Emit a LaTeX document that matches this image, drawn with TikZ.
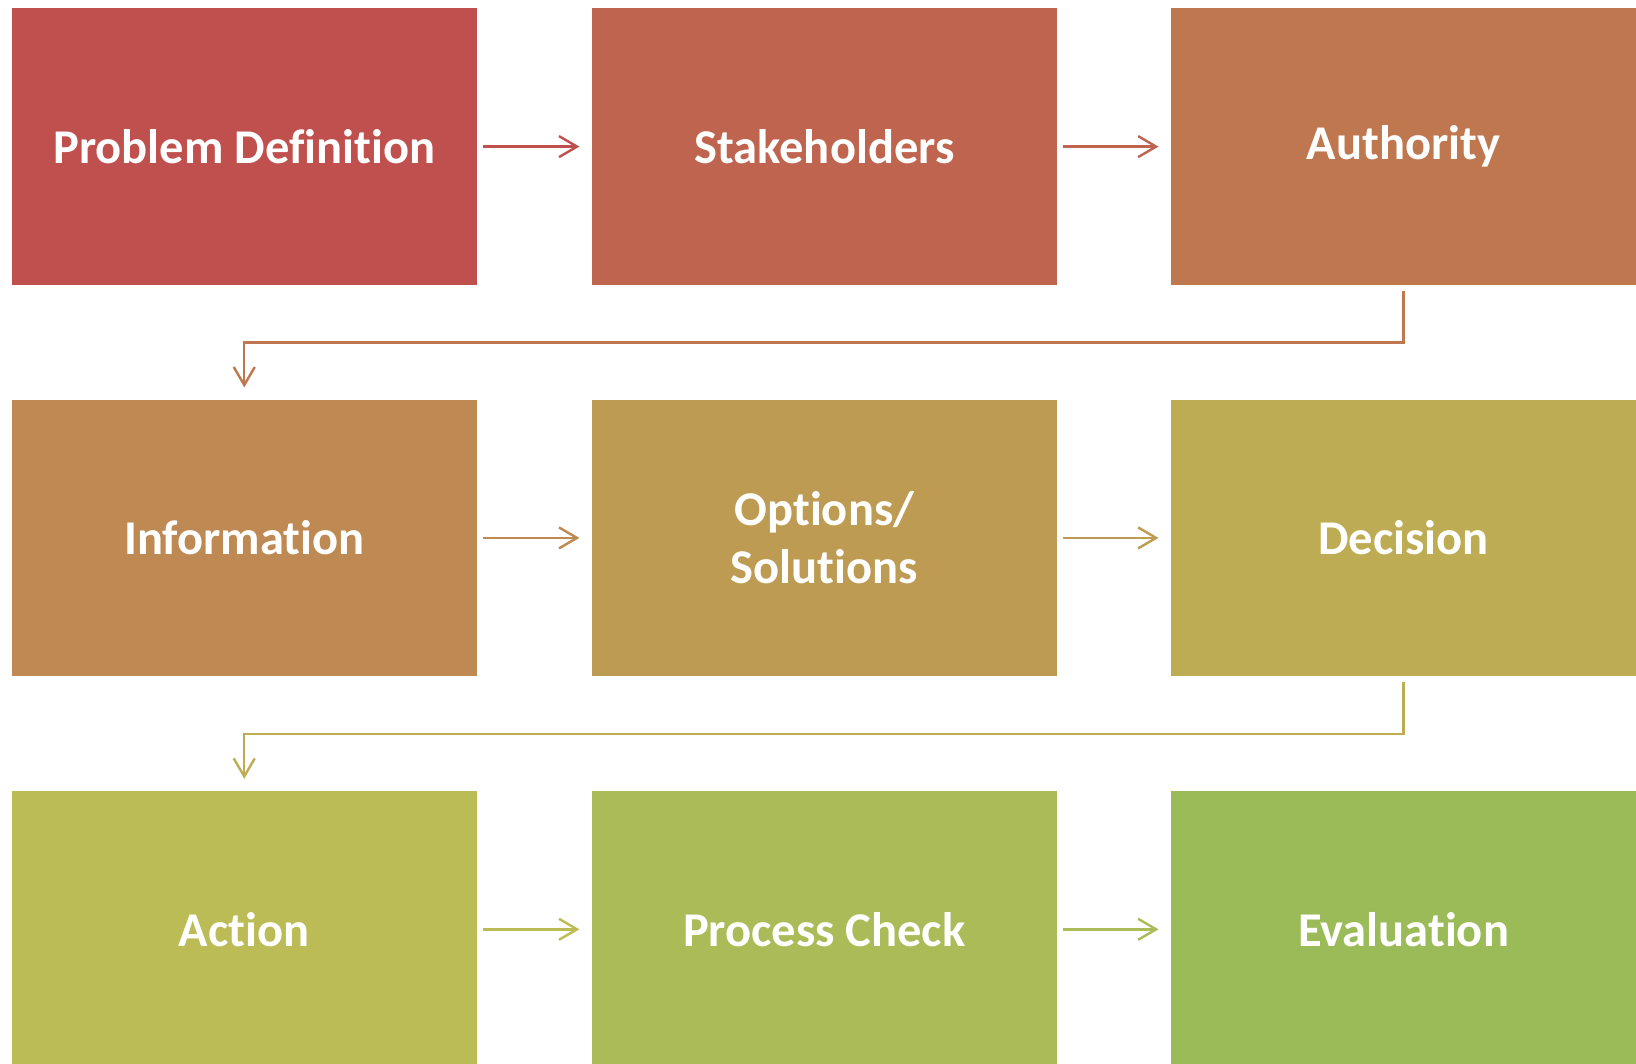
\documentclass[tikz,border=0pt]{standalone}
\usepackage{fontspec}
\setmainfont{Carlito}[Ligatures=NoCommon,RawFeature={-liga;-clig}]
\usetikzlibrary{arrows.meta}
\definecolor{c1}{RGB}{192,80,77}
\definecolor{c2}{RGB}{191,100,78}
\definecolor{c3}{RGB}{191,119,80}
\definecolor{c4}{RGB}{190,137,82}
\definecolor{c5}{RGB}{189,155,83}
\definecolor{c6}{RGB}{189,172,84}
\definecolor{c7}{RGB}{188,188,86}
\definecolor{c8}{RGB}{171,187,87}
\definecolor{c9}{RGB}{155,187,89}
\begin{document}
\begin{tikzpicture}[x=1pt,y=1pt,
  box/.style={fill=#1, draw=none, minimum width=465.5pt, minimum height=276.6pt,
    inner sep=0pt, text=white, font=\fontsize{48.5}{58}\selectfont\bfseries, align=center},
  conn/.style={draw=#1, line width=2.4pt,
    -{Straight Barb[length=18pt,width=21pt,line width=2.4pt]},
    shorten <=6pt, shorten >=12pt}]
\useasboundingbox (0,0) rectangle (1636,-1064);
\clip (0,0) rectangle (1636,-1064);
\node[box=c1] (prob) at (244.25,-146.6) {Problem Definition};
\node[box=c2] (stak) at (824.35,-146.6) {Stakeholders};
\node[box=c3] (auth) at (1403.45,-146.6) {Authority};
\node[box=c4] (info) at (244.25,-537.9) {Information};
\node[box=c5] (opts) at (824.35,-537.9) {Options/\\Solutions};
\node[box=c6] (deci) at (1403.45,-537.9) {Decision};
\node[box=c7] (acti) at (244.25,-929.3) {Action};
\node[box=c8] (proc) at (824.35,-929.3) {Process Check};
\node[box=c9] (eval) at (1403.45,-929.3) {Evaluation};
\draw[conn=c1] (prob) -- (stak);
\draw[conn=c2] (stak) -- (auth);
\draw[conn=c3] (auth.south) -- ++(0,-57.35) -| (info.north);
\draw[conn=c4] (info) -- (opts);
\draw[conn=c5] (opts) -- (deci);
\draw[conn=c6] (deci.south) -- ++(0,-57.35) -| (acti.north);
\draw[conn=c7] (acti) -- (proc);
\draw[conn=c8] (proc) -- (eval);
\end{tikzpicture}
\end{document}
